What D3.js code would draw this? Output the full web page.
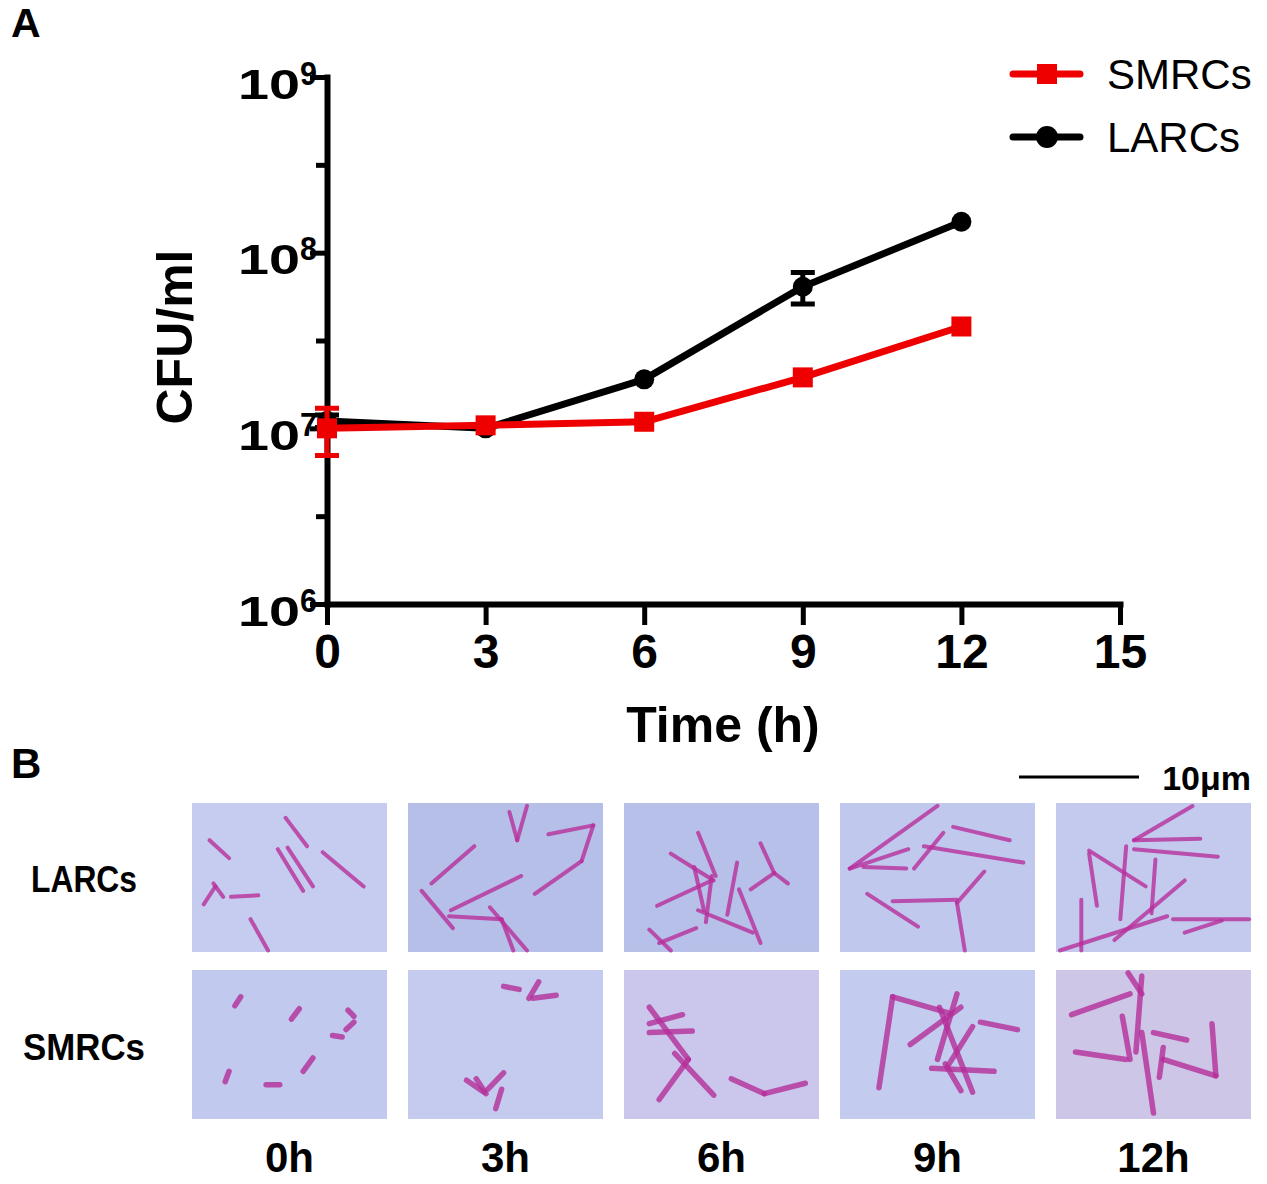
<!DOCTYPE html>
<html>
<head>
<meta charset="utf-8">
<script src="https://cdn.jsdelivr.net/npm/d3@7/dist/d3.min.js"></script>
<style>
  body { margin: 0; background: #fff; }
  text { font-family: "Liberation Sans", Arial, sans-serif; }
</style>
</head>
<body>
<div id="chart"></div>
<script>
const WIDTH = 1267;
const HEIGHT = 1184;

// --- panel A data ---
const hours = [0, 3, 6, 9, 12];
const smrcs = [1.0e7, 1.04e7, 1.09e7, 1.95e7, 3.8e7];
const smrcsErr = [3.0e6, 0, 0, 0, 0];
const larcs = [1.1e7, 1.0e7, 1.9e7, 6.4e7, 1.5e8];
const larcsErr = [9e5, 0, 0, 1.3e7, 0];
const xTicks = [0, 3, 6, 9, 12, 15];
const yMajor = [1e6, 1e7, 1e8, 1e9];
const yExponents = ["6", "7", "8", "9"];
const yMinor = [Math.pow(10, 6.5), Math.pow(10, 7.5), Math.pow(10, 8.5)];

// --- panel B data ---
const timeLabels = ["0h", "3h", "6h", "9h", "12h"];
const strains = ["LARCs", "SMRCs"];
const panelFills = [
    ["#c5ccef", "#b6bfe8", "#b7c0e8", "#c0c8ed", "#c3caee"],
    ["#c2c9ef", "#c4cbef", "#cbc7ec", "#c3cbef", "#cec6e7"]
];
// rods in fractions of each micrograph, [x1, y1, x2, y2]
const rodsLARCs = [
    [[0.09,0.25,0.19,0.37],[0.48,0.10,0.59,0.29],[0.44,0.31,0.57,0.59],[0.49,0.30,0.62,0.56],
     [0.67,0.33,0.88,0.56],[0.06,0.68,0.12,0.56],[0.20,0.63,0.34,0.62],[0.11,0.54,0.16,0.63],
     [0.30,0.78,0.39,0.99]],
    [[0.52,0.06,0.56,0.25],[0.56,0.25,0.61,0.02],[0.72,0.21,0.95,0.15],[0.95,0.15,0.89,0.39],
     [0.89,0.39,0.65,0.61],[0.34,0.29,0.12,0.54],[0.58,0.49,0.22,0.72],[0.07,0.59,0.23,0.84],
     [0.21,0.76,0.48,0.78],[0.42,0.70,0.61,0.99],[0.48,0.78,0.54,0.99]],
    [[0.38,0.20,0.47,0.49],[0.24,0.34,0.46,0.52],[0.17,0.69,0.45,0.52],[0.36,0.43,0.41,0.72],
     [0.45,0.49,0.42,0.80],[0.58,0.40,0.53,0.75],[0.59,0.58,0.70,0.94],[0.38,0.72,0.66,0.87],
     [0.70,0.27,0.77,0.47],[0.77,0.47,0.84,0.54],[0.77,0.47,0.65,0.58],[0.13,0.85,0.24,0.99],
     [0.18,0.94,0.37,0.84]],
    [[0.05,0.44,0.50,0.02],[0.05,0.44,0.35,0.31],[0.12,0.43,0.34,0.44],[0.38,0.44,0.53,0.20],
     [0.58,0.16,0.87,0.25],[0.43,0.29,0.94,0.40],[0.14,0.61,0.40,0.83],[0.27,0.66,0.60,0.65],
     [0.60,0.67,0.74,0.46],[0.60,0.67,0.64,0.99]],
    [[0.70,0.02,0.40,0.25],[0.40,0.25,0.74,0.24],[0.40,0.31,0.83,0.36],[0.17,0.32,0.46,0.56],
     [0.36,0.29,0.33,0.78],[0.17,0.34,0.21,0.69],[0.51,0.38,0.49,0.74],[0.66,0.52,0.30,0.92],
     [0.02,0.99,0.57,0.76],[0.60,0.78,0.99,0.78],[0.66,0.87,0.85,0.79],[0.13,0.65,0.13,0.99]]
];
const rodsSMRCs = [
    [[0.22,0.24,0.25,0.18],[0.51,0.33,0.55,0.26],[0.80,0.27,0.83,0.31],[0.79,0.40,0.83,0.35],
     [0.72,0.44,0.77,0.45],[0.57,0.68,0.62,0.59],[0.17,0.75,0.19,0.68],[0.38,0.77,0.45,0.77]],
    [[0.49,0.11,0.57,0.13],[0.62,0.19,0.67,0.08],[0.64,0.19,0.76,0.17],[0.30,0.74,0.39,0.82],
     [0.41,0.80,0.49,0.69],[0.45,0.93,0.48,0.80],[0.35,0.73,0.40,0.83]],
    [[0.13,0.36,0.30,0.30],[0.13,0.42,0.35,0.41],[0.13,0.25,0.33,0.60],[0.33,0.60,0.18,0.87],
     [0.26,0.56,0.46,0.84],[0.55,0.73,0.72,0.83],[0.72,0.83,0.93,0.76]],
    [[0.20,0.79,0.27,0.18],[0.27,0.18,0.56,0.29],[0.60,0.16,0.50,0.60],[0.36,0.50,0.62,0.25],
     [0.51,0.25,0.68,0.82],[0.72,0.35,0.91,0.40],[0.68,0.38,0.55,0.65],[0.47,0.66,0.79,0.68],
     [0.54,0.63,0.62,0.81]],
    [[0.08,0.30,0.38,0.16],[0.37,0.02,0.44,0.16],[0.44,0.04,0.41,0.55],[0.34,0.31,0.38,0.60],
     [0.10,0.55,0.36,0.60],[0.44,0.42,0.50,0.96],[0.50,0.42,0.67,0.47],[0.55,0.52,0.53,0.72],
     [0.55,0.60,0.82,0.71],[0.80,0.36,0.82,0.71]]
];

const svg = d3.select("#chart")
    .append("svg")
    .attr("width", WIDTH)
    .attr("height", HEIGHT);

// ================= Panel A =================
const x = d3.scaleLinear().domain([0, 15]).range([327, 1120]);
const y = d3.scaleLog().domain([1e6, 1e9]).range([604, 77]);

svg.append("text")
    .attr("x", 11).attr("y", 37)
    .attr("font-size", 41).attr("font-weight", "bold")
    .text("A");

// x axis
const xAxis = svg.append("g")
    .attr("transform", `translate(0,${y(1e6)})`)
    .call(d3.axisBottom(x).tickValues(xTicks).tickSize(21).tickSizeOuter(0).tickPadding(9));
xAxis.select(".domain").attr("stroke-width", 6).attr("stroke-linecap", "square");
xAxis.selectAll(".tick line").attr("stroke-width", 5);
xAxis.selectAll(".tick text")
    .attr("font-size", 48).attr("font-weight", "bold")
    .attr("fill", "#000")
    .attr("font-family", "Liberation Sans, Arial, sans-serif");

// y axis
const yAxis = svg.append("g")
    .attr("transform", `translate(${x(0)},0)`)
    .call(d3.axisLeft(y).tickValues(yMajor).tickSize(17).tickSizeOuter(0).tickFormat(() => ""));
yAxis.select(".domain").attr("stroke-width", 6).attr("stroke-linecap", "square");
yAxis.selectAll(".tick line").attr("stroke-width", 5);

// the axis group sets text-anchor=end, so both labels set their own anchor
yAxis.selectAll(".tick").each(function(d, i) {
    const g = d3.select(this);
    g.append("text")
        .attr("x", -89).attr("y", 21)
        .attr("text-anchor", "start")
        .attr("font-size", 42).attr("font-weight", "bold")
        .attr("fill", "#000")
        .attr("textLength", 62).attr("lengthAdjust", "spacingAndGlyphs")
        .text("10");
    g.append("text")
        .attr("x", -27).attr("y", 7)
        .attr("text-anchor", "start")
        .attr("font-size", 33).attr("font-weight", "bold")
        .attr("fill", "#000")
        .attr("textLength", 17).attr("lengthAdjust", "spacingAndGlyphs")
        .text(yExponents[i]);
});

const yMinorAxis = svg.append("g")
    .attr("transform", `translate(${x(0)},0)`)
    .call(d3.axisLeft(y).tickValues(yMinor).tickSize(11).tickFormat(() => ""));
yMinorAxis.select(".domain").remove();
yMinorAxis.selectAll(".tick line").attr("stroke-width", 5);

svg.append("text")
    .attr("transform", `translate(192,337) rotate(-90)`)
    .attr("text-anchor", "middle")
    .attr("font-size", 50).attr("font-weight", "bold")
    .text("CFU/ml");

svg.append("text")
    .attr("x", 723).attr("y", 742)
    .attr("text-anchor", "middle")
    .attr("font-size", 50).attr("font-weight", "bold")
    .text("Time (h)");

const line = d3.line()
    .x(d => x(d.h))
    .y(d => y(d.v));

function dibujarSerie(values, errs, color, marker) {
    const data = hours.map((h, i) => ({ h: h, v: values[i], e: errs[i] }));
    const g = svg.append("g");

    g.selectAll(".err")
        .data(data.filter(d => d.e > 0))
        .enter().append("path")
        .attr("d", d => {
            const cx = x(d.h), y1 = y(d.v + d.e), y2 = y(d.v - d.e), w = 12;
            return `M${cx - w},${y1}H${cx + w}M${cx},${y1}V${y2}M${cx - w},${y2}H${cx + w}`;
        })
        .attr("stroke", color)
        .attr("stroke-width", 5)
        .attr("fill", "none");

    g.append("path")
        .datum(data)
        .attr("d", line)
        .attr("fill", "none")
        .attr("stroke", color)
        .attr("stroke-width", 7)
        .attr("stroke-linejoin", "round");

    if (marker === "square") {
        g.selectAll(".pt")
            .data(data)
            .enter().append("rect")
            .attr("x", d => x(d.h) - 10)
            .attr("y", d => y(d.v) - 10)
            .attr("width", 20).attr("height", 20)
            .attr("fill", color);
    } else {
        g.selectAll(".pt")
            .data(data)
            .enter().append("circle")
            .attr("cx", d => x(d.h))
            .attr("cy", d => y(d.v))
            .attr("r", 10)
            .attr("fill", color);
    }
}

dibujarSerie(larcs, larcsErr, "#000000", "circle");
dibujarSerie(smrcs, smrcsErr, "#ee0000", "square");

// legend
const legendItems = [
    { name: "SMRCs", color: "#ee0000", marker: "square" },
    { name: "LARCs", color: "#000000", marker: "circle" }
];
const legend = svg.selectAll(".legend")
    .data(legendItems)
    .enter().append("g")
    .attr("transform", (d, i) => `translate(1013,${74 + i * 63})`);
legend.append("line")
    .attr("x1", 0).attr("x2", 67)
    .attr("stroke", d => d.color)
    .attr("stroke-width", 7)
    .attr("stroke-linecap", "round");
legend.filter(d => d.marker === "square").append("rect")
    .attr("x", 24).attr("y", -10).attr("width", 20).attr("height", 20)
    .attr("fill", d => d.color);
legend.filter(d => d.marker === "circle").append("circle")
    .attr("cx", 34).attr("r", 11)
    .attr("fill", d => d.color);
legend.append("text")
    .attr("x", 94).attr("y", 15)
    .attr("font-size", 42)
    .text(d => d.name);

// ================= Panel B =================
svg.append("text")
    .attr("x", 11).attr("y", 778)
    .attr("font-size", 42).attr("font-weight", "bold")
    .text("B");

const colB = d3.scaleBand().domain(timeLabels).range([192, 1251]).paddingInner(0.097);
const rowB = d3.scaleBand().domain(strains).range([803, 1119]).paddingInner(0.108);

const rx = d3.scaleLinear().domain([0, 1]).range([0, colB.bandwidth()]);
const ry = d3.scaleLinear().domain([0, 1]).range([0, rowB.bandwidth()]);

strains.forEach(function(strain, r) {
    const rodSets = strain === "LARCs" ? rodsLARCs : rodsSMRCs;
    timeLabels.forEach(function(t, c) {
        const g = svg.append("g")
            .attr("transform", `translate(${colB(t)},${rowB(strain)})`);
        g.append("rect")
            .attr("width", colB.bandwidth())
            .attr("height", rowB.bandwidth())
            .attr("fill", panelFills[r][c]);
        g.selectAll("line")
            .data(rodSets[c])
            .enter().append("line")
            .attr("x1", d => rx(d[0])).attr("y1", d => ry(d[1]))
            .attr("x2", d => rx(d[2])).attr("y2", d => ry(d[3]))
            .attr("stroke", strain === "LARCs" ? "#b8309c" : "#b52f9a")
            .attr("stroke-width", strain === "LARCs" ? 4 : 5.5)
            .attr("stroke-linecap", "round")
            .attr("opacity", 0.8);
    });
});

svg.selectAll(".rowlab")
    .data(strains)
    .enter().append("text")
    .attr("y", d => rowB(d) + rowB.bandwidth() / 2 + 15)
    .attr("font-family", "Open Sans, sans-serif")
    .attr("font-size", 37).attr("font-weight", "bold")
    .attr("textLength", d => d === "LARCs" ? 106 : 122)
    .attr("lengthAdjust", "spacingAndGlyphs")
    .attr("x", d => d === "LARCs" ? 31 : 23)
    .text(d => d);

svg.selectAll(".collab")
    .data(timeLabels)
    .enter().append("text")
    .attr("x", d => colB(d) + colB.bandwidth() / 2)
    .attr("y", 1172)
    .attr("text-anchor", "middle")
    .attr("font-size", 42).attr("font-weight", "bold")
    .text(d => d);

// scale bar
svg.append("line")
    .attr("x1", 1019).attr("x2", 1139)
    .attr("y1", 777).attr("y2", 777)
    .attr("stroke", "#000").attr("stroke-width", 3);
svg.append("text")
    .attr("x", 1251).attr("y", 790)
    .attr("text-anchor", "end")
    .attr("font-size", 34).attr("font-weight", "bold")
    .text("10μm");
</script>
</body>
</html>
